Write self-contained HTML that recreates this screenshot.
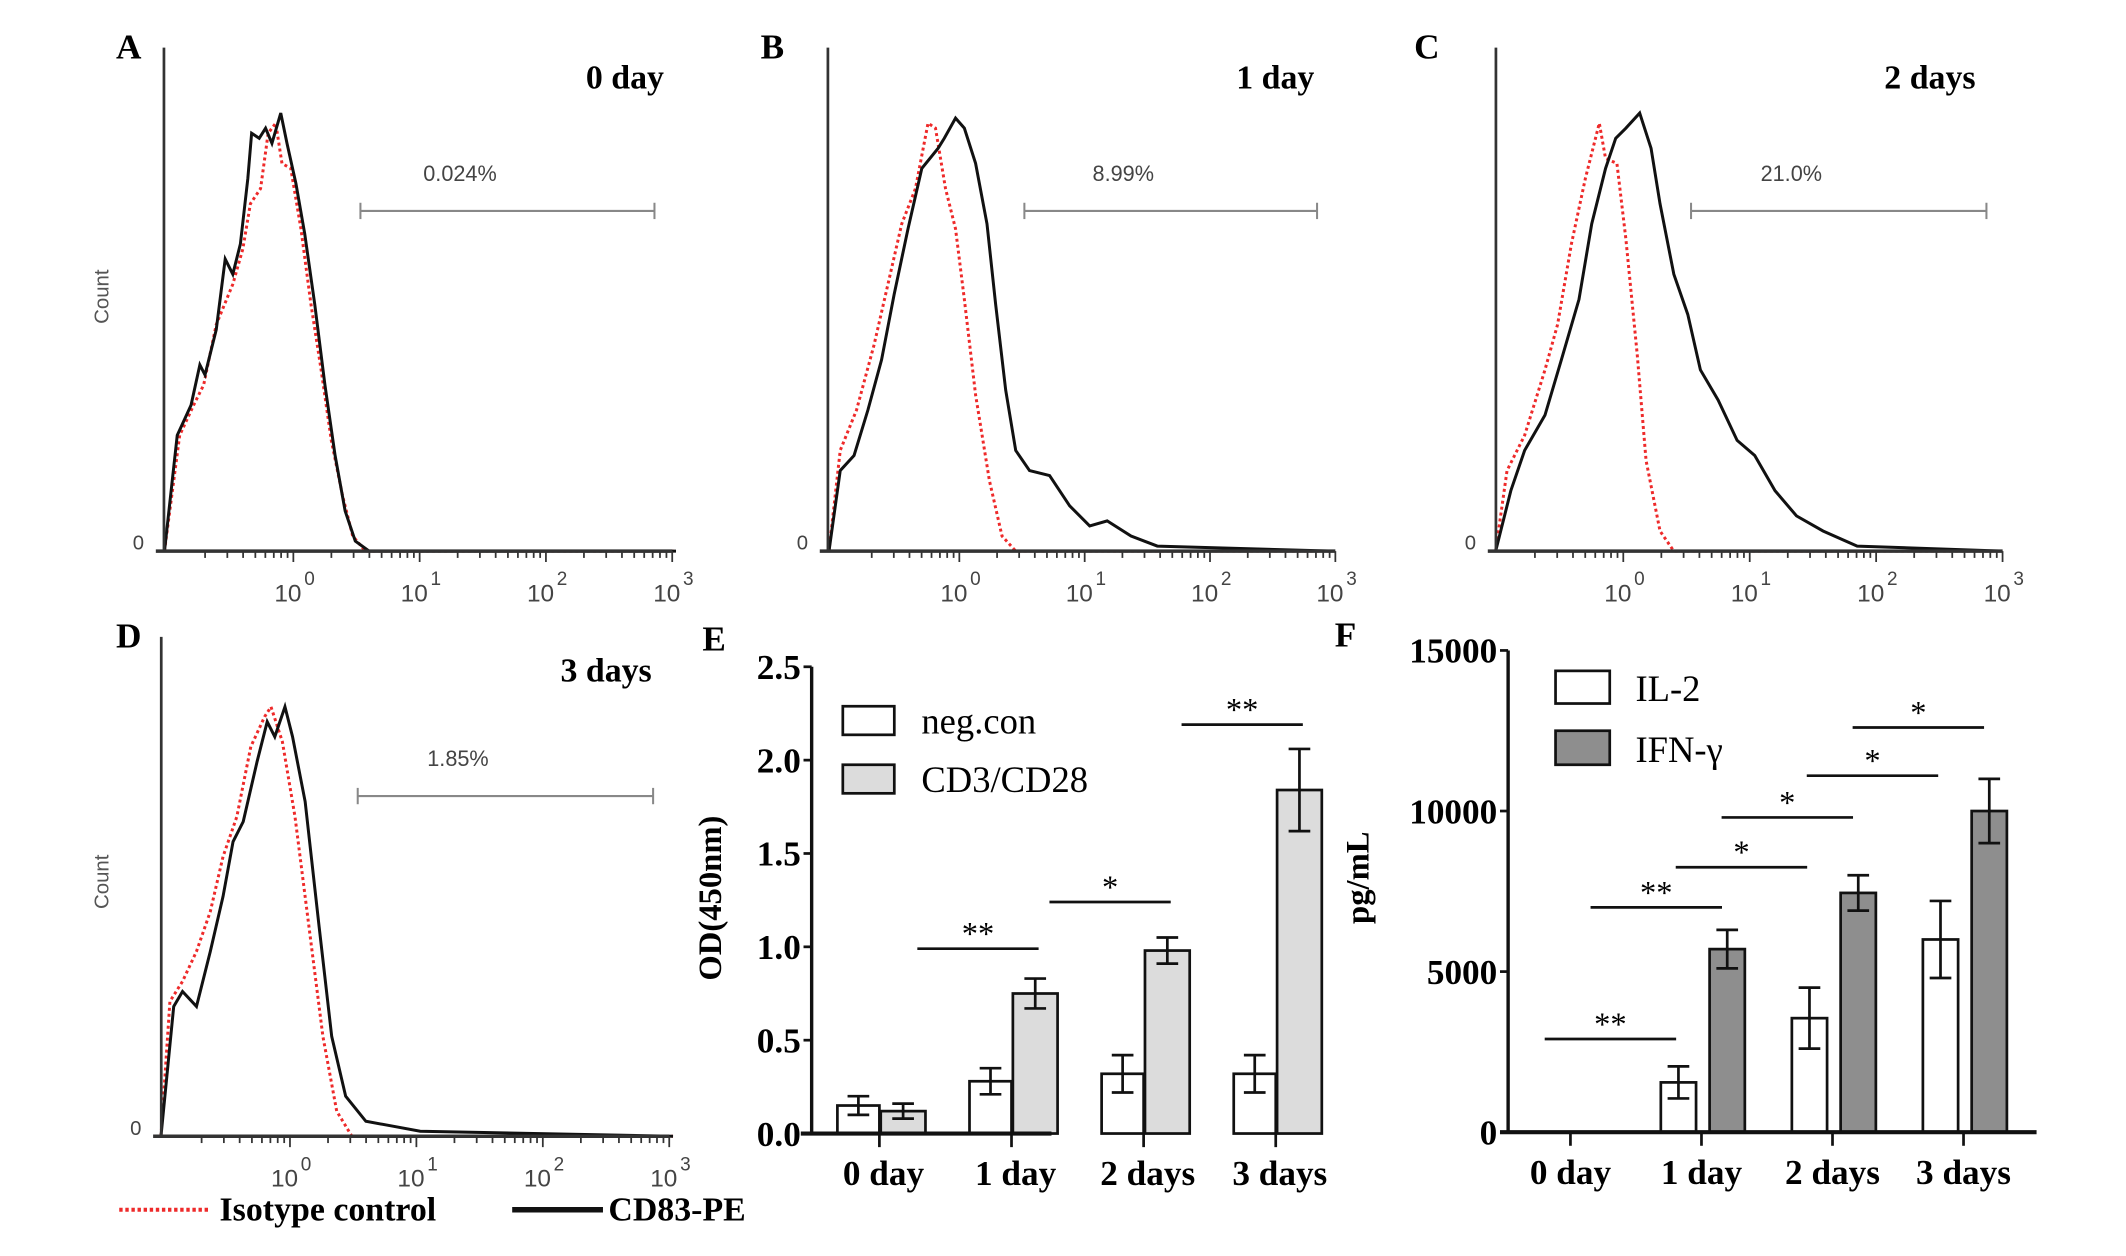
<!DOCTYPE html>
<html><head><meta charset="utf-8"><style>
html,body{margin:0;padding:0;background:#fff;}
svg{display:block;}
</style></head><body>
<svg id="fig" xmlns="http://www.w3.org/2000/svg" width="2126" height="1256" viewBox="0 0 1569 923" preserveAspectRatio="none"></svg>
<script>
// ---- Histogram data: [log10 intensity, fraction of max count] ----
const histA_black=[[-1.02,0],[-0.92,0.23],[-0.81,0.29],[-0.74,0.37],[-0.70,0.35],[-0.61,0.44],[-0.54,0.58],[-0.48,0.55],[-0.42,0.61],[-0.36,0.74],[-0.33,0.83],[-0.27,0.82],[-0.22,0.84],[-0.17,0.81],[-0.10,0.87],[-0.05,0.81],[0.02,0.73],[0.09,0.63],[0.17,0.49],[0.25,0.33],[0.33,0.19],[0.41,0.08],[0.49,0.02],[0.60,0],[3.03,0]];
const histA_red=[[-1.02,0],[-0.90,0.23],[-0.79,0.29],[-0.71,0.33],[-0.61,0.45],[-0.48,0.53],[-0.40,0.60],[-0.34,0.69],[-0.26,0.72],[-0.20,0.83],[-0.14,0.85],[-0.09,0.77],[-0.02,0.76],[0.06,0.64],[0.14,0.49],[0.22,0.36],[0.30,0.22],[0.39,0.11],[0.47,0.03],[0.57,0],[3.03,0]];
const histB_black=[[-1.04,0],[-0.95,0.16],[-0.84,0.19],[-0.73,0.28],[-0.62,0.38],[-0.52,0.51],[-0.41,0.64],[-0.30,0.76],[-0.17,0.80],[-0.12,0.82],[-0.03,0.86],[0.04,0.84],[0.13,0.77],[0.22,0.65],[0.29,0.49],[0.37,0.32],[0.45,0.20],[0.56,0.16],[0.72,0.15],[0.88,0.09],[1.04,0.05],[1.18,0.06],[1.37,0.03],[1.58,0.01],[2.98,0]];
const histB_red=[[-1.04,0],[-0.95,0.20],[-0.82,0.28],[-0.68,0.41],[-0.57,0.53],[-0.46,0.65],[-0.35,0.72],[-0.25,0.85],[-0.19,0.84],[-0.11,0.72],[-0.03,0.64],[0.04,0.50],[0.13,0.31],[0.24,0.14],[0.34,0.03],[0.45,0],[2.98,0]];
const histC_black=[[-1.01,0],[-0.89,0.12],[-0.78,0.20],[-0.62,0.27],[-0.49,0.38],[-0.35,0.50],[-0.25,0.65],[-0.14,0.76],[-0.06,0.82],[0.02,0.84],[0.13,0.87],[0.22,0.80],[0.29,0.69],[0.40,0.55],[0.51,0.47],[0.61,0.36],[0.75,0.30],[0.90,0.22],[1.04,0.19],[1.20,0.12],[1.37,0.07],[1.58,0.04],[1.85,0.01],[3.0,0]];
const histC_red=[[-1.01,0],[-0.92,0.16],[-0.78,0.23],[-0.62,0.36],[-0.52,0.45],[-0.41,0.61],[-0.30,0.74],[-0.19,0.85],[-0.14,0.78],[-0.05,0.77],[0.02,0.62],[0.11,0.39],[0.18,0.18],[0.29,0.04],[0.40,0],[3.0,0]];
const histD_black=[[-1.02,0],[-0.92,0.26],[-0.85,0.29],[-0.74,0.26],[-0.63,0.37],[-0.53,0.48],[-0.45,0.59],[-0.37,0.63],[-0.26,0.75],[-0.18,0.83],[-0.12,0.80],[-0.04,0.86],[0.02,0.80],[0.12,0.67],[0.23,0.42],[0.33,0.20],[0.44,0.08],[0.60,0.03],[0.82,0.02],[1.03,0.01],[3.03,0]];
const histD_red=[[-1.02,0],[-0.95,0.27],[-0.85,0.31],[-0.74,0.37],[-0.63,0.45],[-0.53,0.56],[-0.42,0.64],[-0.31,0.78],[-0.20,0.84],[-0.15,0.86],[-0.06,0.79],[0.04,0.64],[0.15,0.42],[0.26,0.20],[0.37,0.05],[0.49,0],[3.03,0]];
const histPercents=["0.024%","8.99%","21.0%","1.85%"];
const histDays=["0 day","1 day","2 days","3 days"];
const decadeExps=["0","1","2","3"];

// ---- Panel E data ----
const eCategories=["0 day","1 day","2 days","3 days"];
const eNeg=[0.15,0.28,0.32,0.32];
const eNegErr=[0.05,0.07,0.10,0.10];
const eCD=[0.12,0.75,0.98,1.84];
const eCDErr=[0.04,0.08,0.07,0.22];
const eTicks=[0,0.5,1.0,1.5,2.0,2.5];
const eTickLabels=["0.0","0.5","1.0","1.5","2.0","2.5"];
const eSigLevels=[0.99,1.24,2.19];
const eSigFrom=[0,1,2];
const eSigLabels=["**","*","**"];

// ---- Panel F data ----
const fCategories=["0 day","1 day","2 days","3 days"];
const fIL2=[0,1550,3550,6000];
const fIL2Err=[0,500,950,1200];
const fIFN=[0,5700,7450,10000];
const fIFNErr=[0,600,550,1000];
const fTicks=[0,5000,10000,15000];
const fSigLevels=[2900,7000,8250,9800,11100,12600];
const fSigStart=[0,0.35,1,1.35,2,2.35];
const fSigLabels=["**","**","*","*","*","*"];

const NS="http://www.w3.org/2000/svg";
const svg=document.getElementById('fig');
function mk(tag,attrs,parent){const e=document.createElementNS(NS,tag);for(const k in attrs)e.setAttribute(k,attrs[k]);(parent||svg).appendChild(e);return e;}
function txt(s,attrs,parent){const e=mk('text',attrs,parent);e.textContent=s;return e;}
const SERIF='"Liberation Serif", serif', SANS='"Liberation Sans", sans-serif';

const panels=[
 {letter:"A",lx:95,ax:121,top:35,bot:405,dec0:216.5,dec:93.2,black:histA_black,red:histA_red,g1:266,g2:483,gy:155,py:127,dy:57,dr:490},
 {letter:"B",lx:570,ax:611,top:35,bot:405,dec0:708,dec:92.5,black:histB_black,red:histB_red,g1:756,g2:972,gy:155,py:127,dy:57,dr:970},
 {letter:"C",lx:1053,ax:1104,top:35,bot:405,dec0:1198,dec:93.3,black:histC_black,red:histC_red,g1:1248,g2:1466,gy:155,py:127,dy:57,dr:1458},
 {letter:"D",lx:95,ax:119,top:468,bot:835,dec0:214,dec:93.3,black:histD_black,red:histD_red,g1:264,g2:482,gy:585,py:557,dy:493,dr:481}
];
panels.forEach((p,i)=>{
  const g=mk('g',{});
  
  
  const H=p.bot-p.top;
  const X=v=>p.dec0+v*p.dec, Y=f=>p.bot-f*H;
  const right=X(3);
  const pl=txt(p.letter,{x:p.lx,y:p.top+8,'font-family':SERIF,'font-weight':'bold','font-size':26,'text-anchor':'middle'},g);
  
  const dl=txt(histDays[i],{x:p.dr,y:p.dy+8,'font-family':SERIF,'font-weight':'bold','font-size':25,'text-anchor':'end'},g);
  
  const path=arr=>arr.map((d,j)=>(j?'L':'M')+X(d[0]).toFixed(1)+','+Y(d[1]).toFixed(1)).join(' ');
  const r=mk('path',{d:path(p.red),fill:'none',stroke:'#ee2a2a','stroke-width':2.2,'stroke-dasharray':'2.2,2.2'},g);
  
  const b=mk('path',{d:path(p.black),fill:'none',stroke:'#111','stroke-width':2.2},g);
  
  const ya=mk('line',{x1:p.ax,y1:p.top,x2:p.ax,y2:p.bot,stroke:'#333','stroke-width':2},g);
  
  const xa=mk('line',{x1:p.ax-6,y1:p.bot,x2:right,y2:p.bot,stroke:'#333','stroke-width':2.5},g);
  
  for(let d=-1;d<3;d++){for(let m=2;m<=10;m++){const lv=d+Math.log10(m);const xx=X(lv);if(xx<p.ax+2)continue;
    mk('line',{x1:xx,y1:p.bot,x2:xx,y2:p.bot+(m==10?8:5),stroke:'#333','stroke-width':1.3},g);}}
  decadeExps.forEach((e,k)=>{const xx=X(k);
    const t=txt('10',{x:xx-4,y:p.bot+37,'font-family':SANS,'font-size':18,fill:'#444','text-anchor':'middle'},g);
    
    txt(e,{x:xx+8,y:p.bot+25,'font-family':SANS,'font-size':14,fill:'#444'},g);});
  txt('0',{x:p.ax-23,y:p.bot-1,'font-family':SANS,'font-size':15,fill:'#444'},g);
  if(i==0||i==3){const c=txt('Count',{x:0,y:0,'font-family':SANS,'font-size':15,fill:'#555','text-anchor':'middle',transform:`translate(80,${p.top+(i==0?183:180)}) rotate(-90)`},g);
    }
  const gg=mk('g',{stroke:'#888','stroke-width':1.5},g);
  
  mk('line',{x1:p.g1,y1:p.gy,x2:p.g2,y2:p.gy},gg);
  mk('line',{x1:p.g1,y1:p.gy-6,x2:p.g1,y2:p.gy+6},gg);
  mk('line',{x1:p.g2,y1:p.gy-6,x2:p.g2,y2:p.gy+6},gg);
  const pc=txt(histPercents[i],{x:(p.g1+p.g2)/2-35,y:p.py+6,'font-family':SANS,'font-size':16,fill:'#444','text-anchor':'middle'},g);
  
});
(function(){const g=mk('g',{});
 mk('line',{x1:88,y1:889,x2:155,y2:889,stroke:'#ee2a2a','stroke-width':3,'stroke-dasharray':'2.5,2'},g);
 txt('Isotype control',{x:162,y:897,'font-family':SERIF,'font-weight':'bold','font-size':25},g);
 mk('line',{x1:378,y1:889,x2:445,y2:889,stroke:'#111','stroke-width':4},g);
 txt('CD83-PE',{x:449,y:897,'font-family':SERIF,'font-weight':'bold','font-size':25},g);})();

// ---- Panel E ----
(function(){
 const g=mk('g',{});
 const x0=599,yb=833,yt=490,ymax=2.5;
 const Y=v=>yb-v/ymax*(yb-yt);
 const C=k=>649+k*97.5;
 txt('E',{x:527,y:478,'font-family':SERIF,'font-weight':'bold','font-size':26,'text-anchor':'middle'},g);
 eTicks.forEach((t,k)=>{mk('line',{x1:x0-6,y1:Y(t),x2:x0,y2:Y(t),stroke:'#111','stroke-width':2},g);
  const l=txt(eTickLabels[k],{x:x0-8,y:Y(t)+9,'font-family':SERIF,'font-size':26,'text-anchor':'end','font-weight':'bold'},g);
  });
 const yt2=txt('OD(450nm)',{x:0,y:0,'font-family':SERIF,'font-weight':'bold','font-size':24,'text-anchor':'middle',transform:'translate(532,660) rotate(-90)'},g);
 
 eCategories.forEach((c,k)=>{const cx=C(k);
  const b1=mk('rect',{x:cx-31,y:Y(eNeg[k]),width:31,height:yb-Y(eNeg[k]),fill:'#fff',stroke:'#111','stroke-width':2},g);
  
  const b2=mk('rect',{x:cx+1,y:Y(eCD[k]),width:33,height:yb-Y(eCD[k]),fill:'#dcdcdc',stroke:'#111','stroke-width':2},g);
  
  [[cx-15.5,eNeg[k],eNegErr[k]],[cx+17.5,eCD[k],eCDErr[k]]].forEach(([ex,v,e])=>{
   const eg=mk('g',{stroke:'#111','stroke-width':2},g);
   
   mk('line',{x1:ex,y1:Y(v-e),x2:ex,y2:Y(v+e)},eg);
   mk('line',{x1:ex-8,y1:Y(v+e),x2:ex+8,y2:Y(v+e)},eg);
   mk('line',{x1:ex-8,y1:Y(v-e),x2:ex+8,y2:Y(v-e)},eg);});
  mk('line',{x1:cx,y1:yb,x2:cx,y2:yb+10,stroke:'#111','stroke-width':2},g);
  const l=txt(c,{x:cx+3,y:yb+38,'font-family':SERIF,'font-weight':'bold','font-size':26,'text-anchor':'middle'},g);
  });
 mk('line',{x1:x0,y1:yt,x2:x0,y2:yb,stroke:'#111','stroke-width':2.5},g);
 mk('line',{x1:x0-8,y1:yb,x2:776,y2:yb,stroke:'#111','stroke-width':3},g);
 eSigLevels.forEach((v,k)=>{const a=C(eSigFrom[k])+28,bb=C(eSigFrom[k]+1)+20;
  const sg=mk('g',{},g);
  mk('line',{x1:a,y1:Y(v),x2:bb,y2:Y(v),stroke:'#111','stroke-width':2},sg);
  txt(eSigLabels[k],{x:(a+bb)/2,y:Y(v)-3,'font-family':SERIF,'font-size':24,'text-anchor':'middle'},sg);});
 const lg=mk('g',{},g);
 mk('rect',{x:622,y:519,width:38,height:21,fill:'#fff',stroke:'#111','stroke-width':2},lg);
 txt('neg.con',{x:680,y:539,'font-family':SERIF,'font-size':27},lg);
 mk('rect',{x:622,y:562,width:38,height:21,fill:'#dcdcdc',stroke:'#111','stroke-width':2},lg);
 txt('CD3/CD28',{x:680,y:582,'font-family':SERIF,'font-size':27},lg);
})();

// ---- Panel F ----
(function(){
 const g=mk('g',{});
 const x0=1113,yb=832,yt=478,ymax=15000;
 const Y=v=>yb-v/ymax*(yb-yt);
 const C=k=>1159+k*96.7;
 txt('F',{x:993,y:475,'font-family':SERIF,'font-weight':'bold','font-size':26,'text-anchor':'middle'},g);
 fTicks.forEach(t=>{mk('line',{x1:x0-6,y1:Y(t),x2:x0,y2:Y(t),stroke:'#111','stroke-width':2},g);
  const l=txt(String(t),{x:x0-8,y:Y(t)+9,'font-family':SERIF,'font-size':26,'font-weight':'bold','text-anchor':'end'},g);
  });
 const yt2=txt('pg/mL',{x:0,y:0,'font-family':SERIF,'font-weight':'bold','font-size':24,'text-anchor':'middle',transform:'translate(1010,645) rotate(-90)'},g);
 
 fCategories.forEach((c,k)=>{const cx=C(k);
  if(fIL2[k]>0){const b1=mk('rect',{x:cx-30,y:Y(fIL2[k]),width:26,height:yb-Y(fIL2[k]),fill:'#fff',stroke:'#111','stroke-width':2},g);
   }
  if(fIFN[k]>0){const b2=mk('rect',{x:cx+6,y:Y(fIFN[k]),width:26,height:yb-Y(fIFN[k]),fill:'#8e8e8e',stroke:'#111','stroke-width':2},g);
   }
  [[cx-17,fIL2[k],fIL2Err[k]],[cx+19,fIFN[k],fIFNErr[k]]].forEach(([ex,v,e])=>{if(e<=0)return;
   const eg=mk('g',{stroke:'#111','stroke-width':2},g);
   
   mk('line',{x1:ex,y1:Y(v-e),x2:ex,y2:Y(v+e)},eg);
   mk('line',{x1:ex-8,y1:Y(v+e),x2:ex+8,y2:Y(v+e)},eg);
   mk('line',{x1:ex-8,y1:Y(v-e),x2:ex+8,y2:Y(v-e)},eg);});
  mk('line',{x1:cx,y1:yb,x2:cx,y2:yb+10,stroke:'#111','stroke-width':2},g);
  const l=txt(c,{x:cx,y:yb+38,'font-family':SERIF,'font-weight':'bold','font-size':26,'text-anchor':'middle'},g);
  });
 mk('line',{x1:x0,y1:yt,x2:x0,y2:yb,stroke:'#111','stroke-width':2.5},g);
 mk('line',{x1:x0-6,y1:yb,x2:1503,y2:yb,stroke:'#111','stroke-width':3},g);
 fSigLevels.forEach((v,k)=>{const a=C(fSigStart[k])-19,bb=a+97;
  const sg=mk('g',{},g);
  mk('line',{x1:a,y1:Y(v),x2:bb,y2:Y(v),stroke:'#111','stroke-width':2},sg);
  txt(fSigLabels[k],{x:(a+bb)/2,y:Y(v)-3,'font-family':SERIF,'font-size':24,'text-anchor':'middle'},sg);});
 const lg=mk('g',{},g);
 mk('rect',{x:1148,y:493,width:40,height:24,fill:'#fff',stroke:'#111','stroke-width':2},lg);
 txt('IL-2',{x:1207,y:515,'font-family':SERIF,'font-size':27},lg);
 mk('rect',{x:1148,y:537,width:40,height:25,fill:'#8e8e8e',stroke:'#111','stroke-width':2},lg);
 txt('IFN-γ',{x:1207,y:560,'font-family':SERIF,'font-size':27},lg);
})();
</script>
</body></html>
